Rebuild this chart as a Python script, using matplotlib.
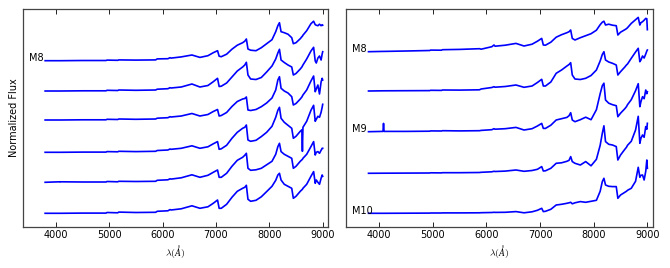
import numpy as np
import matplotlib
matplotlib.use('Agg')
import matplotlib.pyplot as plt

plt.rcParams['mathtext.fontset'] = 'cm'

# wavelength grid (Angstrom) shared by all spectra
wave = [3800, 4070, 4080, 4090, 4500, 4940, 4960, 5160, 5180, 5500,
        5870, 5900, 6100, 6140, 6160, 6350, 6550, 6700, 6850, 6950,
        7030, 7060, 7100, 7200, 7300, 7400, 7500, 7540, 7570, 7600,
        7650, 7750, 7850, 7950, 8050, 8120, 8160, 8190, 8220, 8280,
        8350, 8420, 8450, 8500, 8580, 8610, 8620, 8630, 8700, 8780,
        8830, 8860, 8880, 8910, 8940, 8970, 8990, 9000]

# left panel spectra (flux above each baseline, arbitrary units)
left_1 = [0, 0, 0, 0, 0.2, 0.2, 0.6, 0.4, 0.8, 0.6,
          0.8, 1.8, 2.0, 3.0, 2.6, 3.8, 5.7, 3.3, 5.0, 8.0,
          10.0, 4.5, 4.0, 6.5, 11.5, 15.5, 18.0, 19.5, 21.7, 11.7,
          10.5, 10.0, 13.0, 17.0, 21.0, 29.0, 35.0, 38.0, 29.0, 28.0,
          26.5, 23.0, 17.0, 18.0, 22.0, 24.0, 24.5, 25.5, 30.0, 37.0,
          39.5, 36.0, 35.5, 35.0, 36.5, 35.0, 36.0, 35.5]
left_2 = [0, 0, 0, 0, 0.2, 0.2, 0.7, 0.5, 1.0, 0.7,
          1.0, 1.8, 2.3, 3.3, 3.0, 4.0, 7.0, 4.0, 5.5, 9.3,
          12.7, 4.5, 4.8, 8.0, 14.0, 20.0, 24.0, 26.0, 28.7, 16.0,
          12.0, 11.5, 13.5, 19.0, 25.0, 32.0, 38.0, 41.7, 31.0, 28.5,
          26.0, 24.0, 16.0, 17.5, 22.0, 24.0, 25.0, 26.0, 32.0, 40.0,
          43.7, 30.0, 28.0, 33.0, 35.0, 31.0, 37.0, 39.3]
left_3 = [0, 0, 0, 0, 0.2, 0.2, 0.7, 0.5, 1.0, 0.7,
          1.0, 1.8, 2.3, 3.3, 3.0, 4.0, 6.5, 4.0, 5.5, 8.5,
          10.5, 4.0, 4.5, 7.5, 13.5, 18.5, 21.0, 21.5, 23.0, 10.0,
          9.5, 10.5, 13.3, 17.0, 22.0, 30.0, 40.0, 43.3, 31.7, 29.0,
          27.0, 23.3, 15.0, 16.5, 21.0, 23.0, 24.0, 25.0, 30.0, 39.0,
          44.0, 28.3, 31.0, 35.0, 26.0, 38.0, 41.7, 40.0]
left_4 = [0, 0, 0, 0, 0.2, 0.2, 0.7, 0.5, 1.0, 0.7,
          1.0, 1.8, 2.3, 3.3, 3.0, 4.0, 6.5, 4.0, 5.5, 8.5,
          10.7, 3.0, 3.5, 7.0, 14.0, 20.0, 24.0, 25.0, 27.3, 12.3,
          11.0, 12.0, 15.7, 20.0, 26.0, 35.0, 42.0, 45.0, 34.0, 30.0,
          27.0, 24.0, 14.0, 16.0, 21.0, 22.5, 1.0, 25.0, 31.0, 42.0,
          47.0, 31.0, 33.0, 36.0, 35.0, 40.0, 45.0, 48.0]
left_5 = [0, 0.5, 0.2, 0.5, 0.3, 0.3, 0.8, 0.5, 1.0, 0.8,
          1.0, 2.0, 2.5, 3.5, 3.2, 4.5, 7.5, 5.0, 7.0, 10.0,
          12.3, 5.0, 5.0, 9.0, 16.0, 22.0, 25.0, 27.0, 29.0, 14.0,
          12.0, 12.5, 14.0, 17.5, 21.0, 28.0, 35.7, 39.0, 30.7, 28.0,
          26.0, 24.0, 14.0, 16.0, 21.0, 22.5, 23.0, 24.0, 28.0, 35.7,
          40.7, 27.3, 30.0, 30.7, 29.0, 32.0, 34.0, 34.0]
left_6 = [0, 0, 0, 0, 0.2, 0.2, 0.8, 0.5, 1.2, 0.8,
          1.0, 2.0, 2.5, 3.7, 3.3, 4.5, 7.5, 5.0, 6.5, 10.0,
          13.3, 5.0, 5.0, 9.0, 16.0, 22.0, 25.0, 26.0, 28.0, 14.0,
          12.0, 13.0, 16.5, 21.7, 27.0, 33.0, 38.3, 40.0, 33.3, 29.0,
          27.0, 25.0, 15.0, 17.0, 22.0, 23.5, 24.0, 25.0, 29.0, 37.0,
          41.7, 30.0, 33.3, 31.0, 29.0, 35.0, 38.3, 37.0]

# right panel spectra
right_1 = [0, 0.3, 0.3, 0.3, 0.7, 1.2, 1.6, 1.5, 2.0, 2.3,
           3.0, 2.5, 5.0, 6.7, 5.5, 6.5, 8.3, 5.7, 7.5, 10.5,
           13.3, 6.7, 6.5, 9.5, 14.5, 17.0, 19.0, 20.0, 21.7, 13.3,
           11.7, 14.0, 16.0, 18.0, 21.5, 27.0, 29.5, 30.5, 26.7, 27.5,
           26.5, 26.0, 16.7, 19.5, 22.0, 23.0, 23.5, 24.0, 28.3, 32.0,
           34.3, 26.7, 29.0, 30.0, 31.5, 33.3, 33.0, 22.0]
right_2 = [0, 0.2, 0.2, 0.2, 0.3, 0.4, 0.7, 0.6, 1.0, 0.9,
           1.2, 2.0, 3.5, 4.3, 3.8, 4.5, 6.0, 3.7, 5.0, 8.5,
           11.7, 5.0, 5.0, 9.0, 17.7, 21.0, 25.0, 26.5, 28.3, 16.0,
           12.0, 11.5, 12.7, 15.5, 21.0, 30.0, 36.5, 39.3, 31.0, 29.0,
           27.7, 26.0, 16.0, 19.3, 24.0, 26.0, 26.5, 27.0, 32.7, 39.0,
           42.7, 29.3, 31.0, 35.0, 33.0, 37.0, 40.0, 41.0]
right_3 = [0, 0.3, 8.3, 0.3, 0.3, 0.5, 0.8, 0.7, 1.0, 0.8,
           1.0, 1.3, 2.0, 3.0, 2.5, 3.0, 4.3, 1.7, 3.0, 5.7,
           8.3, 3.3, 3.3, 6.5, 11.7, 13.0, 14.3, 16.0, 19.0, 11.7,
           10.0, 12.0, 14.5, 12.0, 22.0, 38.0, 46.0, 48.5, 31.7, 28.5,
           27.0, 26.0, 15.0, 18.5, 23.0, 25.0, 26.0, 27.0, 32.0, 41.0,
           48.0, 25.0, 30.0, 35.0, 33.0, 41.7, 38.0, 40.0]
right_4 = [0, 0.1, 0.1, 0.1, 0.2, 0.3, 0.5, 0.4, 0.6, 0.6,
           0.8, 1.0, 1.5, 2.0, 1.8, 2.2, 3.3, 2.0, 2.8, 4.0,
           6.7, 2.3, 2.5, 5.0, 10.0, 10.5, 12.0, 13.0, 16.7, 11.7,
           10.0, 8.3, 11.7, 7.5, 14.0, 28.0, 40.0, 47.5, 31.7, 29.0,
           28.3, 26.7, 13.3, 18.3, 24.0, 26.0, 27.0, 28.0, 32.0, 43.3,
           57.0, 30.0, 35.0, 38.3, 36.0, 46.7, 44.0, 50.0]
right_5 = [0, 0, 0, 0, 0.1, 0.2, 0.3, 0.3, 0.4, 0.4,
           0.5, 0.6, 0.8, 1.0, 0.9, 1.0, 1.7, 0.5, 1.5, 3.0,
           5.0, 1.7, 2.0, 4.0, 8.3, 9.0, 10.0, 10.5, 11.0, 9.5,
           10.5, 11.7, 11.0, 12.0, 13.0, 22.0, 31.7, 35.0, 28.3, 27.0,
           26.7, 26.7, 15.0, 18.3, 21.0, 22.0, 22.5, 23.0, 25.0, 32.0,
           46.0, 36.0, 38.0, 38.3, 33.3, 42.0, 53.3, 45.0]

left_spectra = [left_1, left_2, left_3, left_4, left_5, left_6]
left_offsets = [166.3, 136.0, 107.0, 74.7, 44.7, 13.7]
left_labels = ['M8', '', '', '', '', '']

right_spectra = [right_1, right_2, right_3, right_4, right_5]
right_offsets = [175.3, 136.0, 95.3, 53.7, 13.7]
right_labels = ['M8', '', 'M9', '', 'M10']

xticks = [4000, 5000, 6000, 7000, 8000, 9000]

fig = plt.figure(figsize=(6.7, 2.68), dpi=100)
ax1 = fig.add_axes([0.0339, 0.153, 0.4557, 0.8134])
ax2 = fig.add_axes([0.5164, 0.153, 0.4578, 0.8134])

panels = [(ax1, left_spectra, left_offsets, left_labels),
          (ax2, right_spectra, right_offsets, right_labels)]

for ax, spectra, offsets, labels in panels:
    for flux, off, lab in zip(spectra, offsets, labels):
        ax.plot(wave, np.array(flux) + off, color='b', lw=1.2)
        if lab:
            ax.text(3500, off - 0.5, lab, fontsize=7, ha='left', va='baseline')
    ax.set_xlim(3380, 9100)
    ax.set_ylim(0, 218)
    ax.set_yticks([])
    ax.set_xticks(xticks)
    ax.tick_params(axis='x', direction='in', top=True, length=3.5,
                   width=0.6, labelsize=7, pad=2.5)
    for sp in ax.spines.values():
        sp.set_linewidth(0.9)
        sp.set_color('#444444')
    ax.set_xlabel(r'$\lambda(\AA)$', fontsize=7, labelpad=2)

ax1.set_ylabel('Normalized Flux', fontsize=7, labelpad=2.5)

fig.savefig('out.png', dpi=100)
